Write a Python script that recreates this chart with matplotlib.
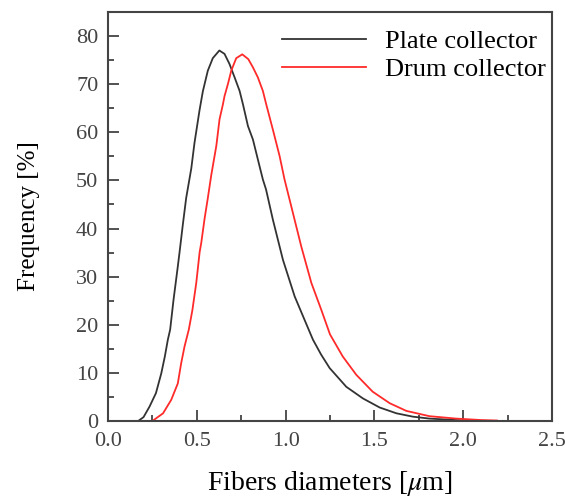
import numpy as np
import matplotlib.pyplot as plt
from matplotlib.ticker import MultipleLocator

# Fiber diameter distributions
plate_d = [0.17, 0.20, 0.234, 0.27, 0.30, 0.32, 0.337, 0.35, 0.369, 0.393,
           0.403, 0.421, 0.44, 0.469, 0.487, 0.515, 0.534, 0.562, 0.59, 0.627,
           0.656, 0.684, 0.713, 0.741, 0.76, 0.788, 0.816, 0.853, 0.872, 0.89,
           0.928, 0.985, 1.051, 1.107, 1.154, 1.2, 1.248, 1.342, 1.435, 1.53,
           1.624, 1.717, 1.81, 1.96, 2.05]
plate_f = [0.0, 0.8, 3.0, 5.8, 9.9, 13.4, 16.9, 19.0, 25.2, 32.1,
           35.1, 40.7, 46.3, 52.5, 57.8, 64.5, 68.5, 72.8, 75.4, 77.0,
           76.3, 74.2, 71.4, 68.6, 65.8, 61.3, 58.5, 53.0, 50.2, 48.1,
           41.9, 33.5, 25.9, 21.0, 16.9, 13.8, 11.0, 7.1, 4.7, 2.8,
           1.6, 0.9, 0.5, 0.2, 0.0]

drum_d = [0.25, 0.31, 0.356, 0.393, 0.412, 0.431, 0.455, 0.475, 0.497, 0.516,
          0.525, 0.544, 0.562, 0.581, 0.61, 0.628, 0.647, 0.656, 0.675, 0.694,
          0.722, 0.756, 0.79, 0.816, 0.844, 0.872, 0.891, 0.928, 0.966, 0.994,
          1.032, 1.088, 1.145, 1.201, 1.25, 1.322, 1.398, 1.49, 1.586, 1.68,
          1.81, 1.96, 2.1, 2.19]
drum_f = [0.0, 1.6, 4.4, 7.8, 12.0, 15.5, 19.0, 23.0, 28.7, 35.1,
          37.0, 42.1, 46.3, 51.0, 57.2, 62.7, 65.8, 67.5, 70.0, 72.8,
          75.4, 76.2, 75.2, 73.5, 71.4, 68.6, 65.8, 60.6, 55.1, 50.2,
          44.6, 36.3, 28.7, 23.1, 18.0, 13.4, 9.6, 6.1, 3.7, 2.1,
          1.0, 0.5, 0.2, 0.1]

plt.rcParams['font.family'] = 'Liberation Serif'
plt.rcParams['mathtext.fontset'] = 'stix'

fig = plt.figure(figsize=(5.65, 5.01), dpi=100)
ax = fig.add_axes([108 / 565, 80 / 501, 444 / 565, 409 / 501])

ax.plot(plate_d, plate_f, color='#333333', lw=1.3, label='Plate collector')
ax.plot(drum_d, drum_f, color='#ff2a2a', lw=1.3, label='Drum collector')

ax.set_xlim(0, 2.5)
ax.set_ylim(0, 85)
ax.xaxis.set_major_locator(MultipleLocator(0.5))
ax.xaxis.set_minor_locator(MultipleLocator(0.25))
ax.yaxis.set_major_locator(MultipleLocator(10))
ax.yaxis.set_minor_locator(MultipleLocator(5))
ax.xaxis.set_major_formatter(plt.FormatStrFormatter('%.1f'))

ax.tick_params(which='both', direction='in', colors='#444444', width=1.3)
ax.tick_params(which='major', length=8, labelsize=16)
ax.tick_params(axis='x', which='major', pad=8)
ax.tick_params(axis='y', which='major', pad=7)
ax.tick_params(which='minor', length=4)
for sp in ax.spines.values():
    sp.set_color('#444444')
    sp.set_linewidth(1.5)

ax.set_xlabel(r'Fibers diameters [$\mu$m]', fontsize=20, labelpad=13)
ax.set_ylabel('Frequency [%]', fontsize=18, labelpad=26)

ax.legend(loc='upper left', bbox_to_anchor=((282 - 108) / 444, 1 - 18 / 409),
          frameon=False, fontsize=19, handlelength=3.2, handletextpad=0.7,
          borderpad=0, borderaxespad=0, labelspacing=0.15)

plt.savefig('out.png', dpi=100)
